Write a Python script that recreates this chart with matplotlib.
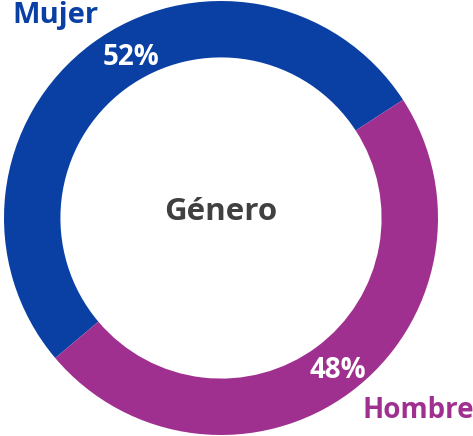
import matplotlib
matplotlib.use("Agg")
import matplotlib.pyplot as plt

categories = ["Mujer", "Hombre"]
values = [52, 48]
colors = ["#0A40A4", "#A0308F"]
center_label = "Género"

plt.rcParams['font.family'] = ['Open Sans', 'DejaVu Sans']

fig = plt.figure(figsize=(4.73, 4.36), dpi=100)
ax = fig.add_axes([4/473, 1/436, 434/473, 434/436])
wedges, _ = ax.pie(values, colors=colors, startangle=33, counterclock=True,
                   radius=1.0, wedgeprops=dict(width=0.26, edgecolor='none'))
ax.set_xlim(-1, 1)
ax.set_ylim(-1, 1)
ax.set_aspect('equal')
ax.axis('off')

def px(x, y):
    return (x / 473, 1 - y / 436)

fs = 20
kw = dict(fontweight='bold', ha='center', va='center',
          transform=fig.transFigure, zorder=10, clip_on=False)
ax.text(*px(131, 57), f"{values[0]}%", color='white', fontsize=fs, **kw)
ax.text(*px(338, 370), f"{values[1]}%", color='white', fontsize=fs, **kw)
ax.text(*px(55, 16), categories[0], color=colors[0], fontsize=21, **kw)
ax.text(*px(418, 410), categories[1], color=colors[1], fontsize=fs, **kw)
ax.text(*px(221, 212), center_label, color='#404040', fontsize=22.5, **kw)

fig.savefig("out.png", dpi=100)
